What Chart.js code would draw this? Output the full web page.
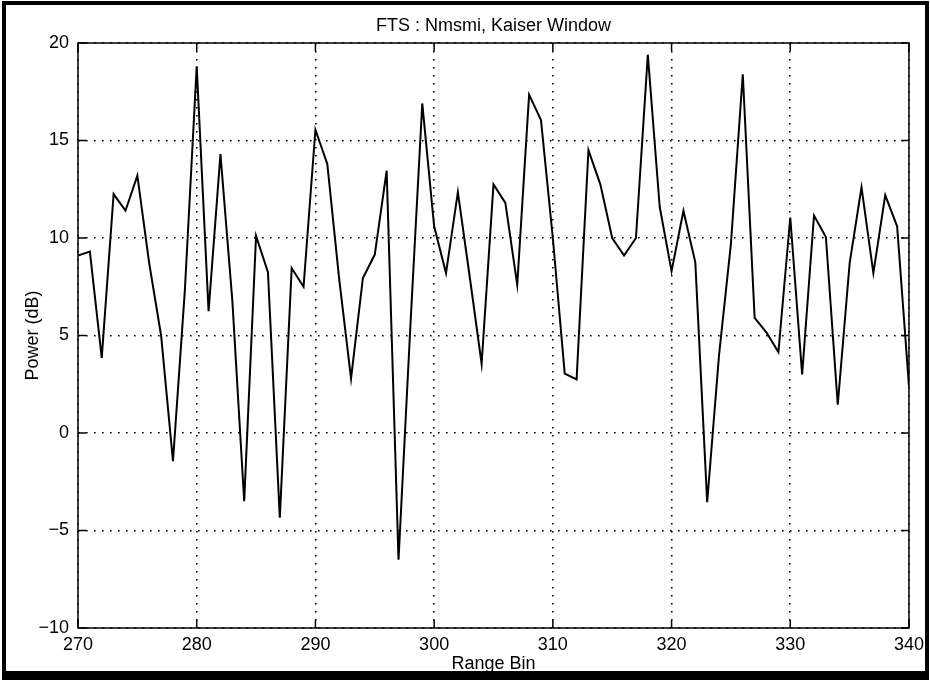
<!DOCTYPE html>
<html>
<head>
<meta charset="utf-8">
<title>FTS : Nmsmi, Kaiser Window</title>
<script src="https://cdn.jsdelivr.net/npm/chart.js@4.4.1/dist/chart.umd.min.js"></script>
<style>
  html, body { margin: 0; padding: 0; background: #fff; }
  #wrap { width: 930px; height: 680px; }
</style>
</head>
<body>
<div id="wrap"><canvas id="ftsChart" width="930" height="680"></canvas></div>
<script>
// range bins (x) and power in dB (y)
const bins = [
  270, 271, 272, 273, 274, 275, 276, 277, 278, 279,
  280, 281, 282, 283, 284, 285, 286, 287, 288, 289,
  290, 291, 292, 293, 294, 295, 296, 297, 298, 299,
  300, 301, 302, 303, 304, 305, 306, 307, 308, 309,
  310, 311, 312, 313, 314, 315, 316, 317, 318, 319,
  320, 321, 322, 323, 324, 325, 326, 327, 328, 329,
  330, 331, 332, 333, 334, 335, 336, 337, 338, 339,
  340
];
const powerDb = [
  9.1, 9.3, 3.85, 12.25, 11.4, 13.2, 8.7, 5.0, -1.45, 7.3,
  18.8, 6.25, 14.3, 6.8, -3.5, 10.1, 8.25, -4.35, 8.45, 7.5,
  15.55, 13.8, 7.9, 2.8, 7.95, 9.15, 13.45, -6.5, 5.5, 16.9,
  10.6, 8.2, 12.35, 8.0, 3.55, 12.75, 11.8, 7.6, 17.35, 16.05,
  10.0, 3.05, 2.75, 14.5, 12.75, 10.0, 9.1, 10.0, 19.4, 11.6,
  8.3, 11.4, 8.75, -3.55, 4.0, 9.7, 18.4, 5.9, 5.15, 4.15,
  11.05, 3.0, 11.15, 10.05, 1.45, 8.7, 12.6, 8.2, 12.2, 10.6,
  2.4
];
const xTicks = [270, 280, 290, 300, 310, 320, 330, 340];
const yTicks = [-10, -5, 0, 5, 10, 15, 20];

const FONT = '"Liberation Sans", Arial, Helvetica, sans-serif';

// matlab style: box round the axes, ticks pointing in, frame round the figure
const boxPlugin = {
  id: 'matlabBox',
  afterDraw(chart) {
    const { ctx, chartArea: a, scales } = chart;
    const tl = 8;
    ctx.save();
    ctx.strokeStyle = '#000';
    ctx.lineWidth = 1.5;
    ctx.strokeRect(a.left, a.top, a.right - a.left, a.bottom - a.top);
    ctx.beginPath();
    xTicks.forEach(v => {
      const px = scales.x.getPixelForValue(v);
      ctx.moveTo(px, a.bottom); ctx.lineTo(px, a.bottom - tl);
      ctx.moveTo(px, a.top); ctx.lineTo(px, a.top + tl);
    });
    yTicks.forEach(v => {
      const py = scales.y.getPixelForValue(v);
      ctx.moveTo(a.left, py); ctx.lineTo(a.left + tl, py);
      ctx.moveTo(a.right, py); ctx.lineTo(a.right - tl, py);
    });
    ctx.stroke();
    // scanned page frame
    ctx.fillStyle = '#000';
    ctx.fillRect(2, 1, 927, 4);
    ctx.fillRect(2, 1, 4, 679);
    ctx.fillRect(925, 1, 4, 679);
    ctx.fillRect(2, 671, 927, 9);
    ctx.restore();
  }
};

new Chart(document.getElementById('ftsChart'), {
  type: 'line',
  data: {
    datasets: [{
      label: 'Power',
      data: bins.map((b, i) => ({ x: b, y: powerDb[i] })),
      borderColor: '#000',
      borderWidth: 2,
      pointRadius: 0,
      tension: 0,
      fill: false
    }]
  },
  options: {
    responsive: false,
    animation: false,
    events: [],
    layout: { padding: { top: 15, right: 19, bottom: 0, left: 0 } },
    plugins: {
      legend: { display: false },
      tooltip: { enabled: false },
      title: {
        display: true,
        text: 'FTS : Nmsmi, Kaiser Window',
        color: '#000',
        fullSize: false,
        font: { family: FONT, size: 18, weight: 'normal' },
        padding: { top: 0, bottom: 6.4 }
      }
    },
    scales: {
      x: {
        type: 'linear', min: 270, max: 340,
        afterFit: s => { s.height = 52; },
        ticks: { stepSize: 10, color: '#000', padding: 6, maxRotation: 0, font: { family: FONT, size: 18 } },
        grid: { color: '#000', lineWidth: 1.6, drawTicks: false },
        border: { display: false, dash: [1.6, 6.4] },
        title: { display: true, text: 'Range Bin', color: '#000', font: { family: FONT, size: 18 }, padding: { top: 0, bottom: 5 } }
      },
      y: {
        min: -10, max: 20,
        afterFit: s => { s.width = 78; },
        ticks: {
          stepSize: 5, color: '#000', padding: 9,
          font: { family: FONT, size: 18 },
          callback: v => (v < 0 ? '\u2212' + Math.abs(v) : String(v))
        },
        grid: { color: '#000', lineWidth: 1.6, drawTicks: false },
        border: { display: false, dash: [1.6, 6.4] },
        title: { display: true, text: 'Power (dB)', color: '#000', font: { family: FONT, size: 18 }, padding: { top: 22, bottom: 0 } }
      }
    }
  },
  plugins: [boxPlugin]
});
</script>
</body>
</html>
